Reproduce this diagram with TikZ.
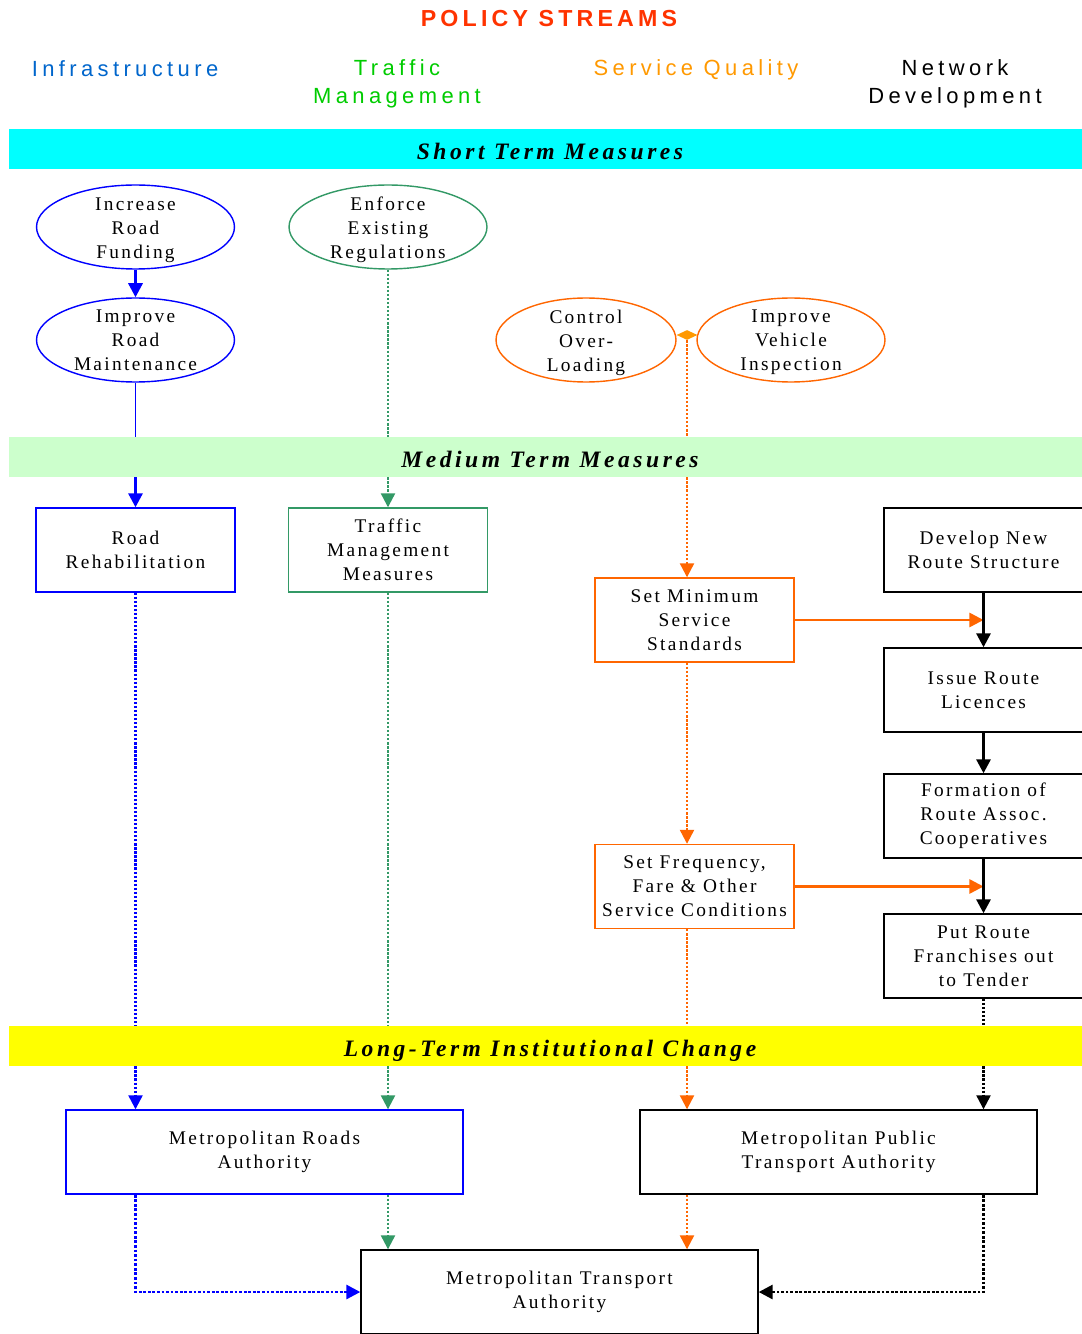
\documentclass[tikz,border=0pt]{standalone}
\usepackage{fontspec}
\setmainfont{Liberation Serif}
\newfontfamily\boxfont[LetterSpace=12]{Liberation Serif}
\newfontfamily\hdrfont[LetterSpace=20]{Liberation Sans}
\newfontfamily\titlefont[LetterSpace=18]{Liberation Sans}
\newfontfamily\bandfont[LetterSpace=15]{Liberation Serif}
\usetikzlibrary{arrows.meta,shapes.geometric}
\definecolor{psTitle}{RGB}{255,51,0}
\definecolor{psBlue}{RGB}{0,102,204}
\definecolor{psGreen}{RGB}{0,204,0}
\definecolor{psAmber}{RGB}{255,153,0}
\definecolor{psOrange}{RGB}{255,102,0}
\definecolor{psSea}{RGB}{51,153,102}
\definecolor{psCyan}{RGB}{0,255,255}
\definecolor{psMint}{RGB}{204,255,204}
\definecolor{psYellow}{RGB}{255,255,0}
\tikzset{
    >={Triangle[length=8pt,width=8pt]},
    hdr/.style={align=center,font=\hdrfont\fontsize{12.5}{15.9}\selectfont,inner sep=0pt},
    band/.style={minimum width=21.64cm,minimum height=0.8cm,inner sep=0pt,text height=13pt,text depth=1pt,font=\bandfont\bfseries\itshape\fontsize{13.4}{15}\selectfont},
    txt/.style={font=\boxfont\fontsize{11}{13.6}\selectfont},
    intxt/.style={txt,align=center,yshift=-0.06cm},
    oval/.style={ellipse,draw,line width=0.8pt,minimum width=3.96cm,minimum height=1.68cm,inner sep=0pt},
    sqbox/.style={rectangle,draw,line width=0.8pt,minimum width=3.98cm,minimum height=1.68cm,align=center,inner sep=0pt,txt},
    wide/.style={sqbox,minimum width=7.94cm},
    dots/.style={densely dotted,line width=1.3pt},
    heavy/.style={line width=1.7pt,-{Triangle[length=8pt,width=8pt]}}
}

\begin{document}
\begin{tikzpicture}[x=0.02cm,y=-0.02cm]
  \useasboundingbox[fill=white] (0,0) rectangle (1081,1334);

  \node[font=\titlefont\bfseries\fontsize{13.2}{15}\selectfont,text=psTitle] (title) at (549,19) {POLICY STREAMS};
  \node[hdr,text=psBlue]   (hinf) at (125,69) {Infrastructure};
  \node[hdr,text=psGreen]  (htm)  at (397,84) {Traffic\\Management};
  \node[hdr,text=psAmber]  (hsq)  at (696,70) {Service Quality};
  \node[hdr]               (hnd)  at (955,84) {Network\\Development};

  \node[oval,draw=blue,label={[intxt]center:Increase\\Road\\Funding}] (irf) at (135.5,227) {};
  \node[oval,draw=blue,label={[intxt,yshift=0.05cm]center:Improve\\Road\\Maintenance}] (irm) at (135.5,340) {};
  \node[oval,draw=psSea,label={[intxt]center:Enforce\\Existing\\Regulations}] (eer) at (388,227) {};
  \node[oval,draw=psOrange,minimum width=3.6cm,label={[intxt]center:Control\\Over-\\Loading}] (col) at (586,340) {};
  \node[oval,draw=psOrange,minimum width=3.76cm,label={[intxt,yshift=0.02cm]center:Improve\\Vehicle\\Inspection}] (ivi) at (791,340) {};
  \node[diamond,fill=psAmber,minimum width=0.42cm,minimum height=0.2cm,inner sep=0pt] (jn) at (687,335) {};

  \node[sqbox,draw=blue]     (rr)   at (135.5,550) {Road\\Rehabilitation};
  \node[sqbox,draw=psSea]    (tmm)  at (388,550)   {Traffic\\Management\\Measures};
  \node[sqbox,draw=psOrange] (smss) at (694.5,620) {Set Minimum\\Service\\Standards};
  \node[sqbox,draw=psOrange] (sfc)  at (694.5,886.5) {Set Frequency,\\Fare \& Other\\Service Conditions};
  \node[sqbox] (dnr) at (983.5,550) {Develop New\\Route Structure};
  \node[sqbox] (irl) at (983.5,690) {Issue Route\\Licences};
  \node[sqbox] (fra) at (983.5,816) {Formation of\\Route Assoc.\\Cooperatives};
  \node[sqbox] (tdr) at (983.5,956) {Put Route\\Franchises out\\to Tender};

  \node[wide,draw=blue] (mra)  at (264.5,1152) {Metropolitan Roads\\Authority};
  \node[wide]           (mpta) at (838.5,1152) {Metropolitan Public\\Transport Authority};
  \node[wide]           (mta)  at (559.5,1292) {Metropolitan Transport\\Authority};

  \node[band,fill=psCyan]   (sb) at (550,149)  {Short Term Measures};
  \node[band,fill=psMint]   (mb) at (550,457)  {Medium Term Measures};
  \node[band,fill=psYellow] (lb) at (550,1046) {Long-Term Institutional Change};

  \draw[heavy,blue] (irf) -- (irm);
  \draw[blue,line width=1pt] (irm.south) -- (irm.south |- mb.north);
  \draw[heavy,blue] (rr.north |- mb.south) -- (rr.north);
  \draw[dots,blue] (rr.south) -- (rr.south |- lb.north);
  \draw[dots,blue,->] (rr.south |- lb.south) -- (rr.south |- mra.north);
  \draw[dots,blue,line width=1.6pt,->] (rr.south |- mra.south) |- (mta.west);

  \draw[dots,psSea] (eer.south) -- (eer.south |- mb.north);
  \draw[dots,psSea,->] (tmm.north |- mb.south) -- (tmm.north);
  \draw[dots,psSea] (tmm.south) -- (tmm.south |- lb.north);
  \draw[dots,psSea,->] (tmm.south |- lb.south) -- (tmm.south |- mra.north);
  \draw[dots,psSea,->] (tmm.south |- mra.south) -- (tmm.south |- mta.north);

  \draw[dots,psOrange] (jn) -- (jn |- mb.north);
  \draw[dots,psOrange,->] (jn |- mb.south) -- (jn |- smss.north);
  \draw[dots,psOrange,->] (jn |- smss.south) -- (jn |- sfc.north);
  \draw[dots,psOrange] (jn |- sfc.south) -- (jn |- lb.north);
  \draw[dots,psOrange,->] (jn |- lb.south) -- (jn |- mpta.north);
  \draw[dots,psOrange,->] (jn |- mpta.south) -- (jn |- mta.north);
  \draw[psOrange,line width=1.4pt,->] (smss.east) -- (smss.east -| dnr.south);
  \draw[psOrange,line width=1.4pt,->] (sfc.east) -- (sfc.east -| fra.south);

  \draw[heavy] (dnr) -- (irl);
  \draw[heavy] (irl) -- (fra);
  \draw[heavy] (fra) -- (tdr);
  \draw[dots] (tdr.south) -- (tdr.south |- lb.north);
  \draw[dots,->] (tdr.south |- lb.south) -- (tdr.south |- mpta.north);
  \draw[dots,line width=1.6pt,->] (tdr.south |- mpta.south) |- (mta.east);
\end{tikzpicture}
\end{document}
